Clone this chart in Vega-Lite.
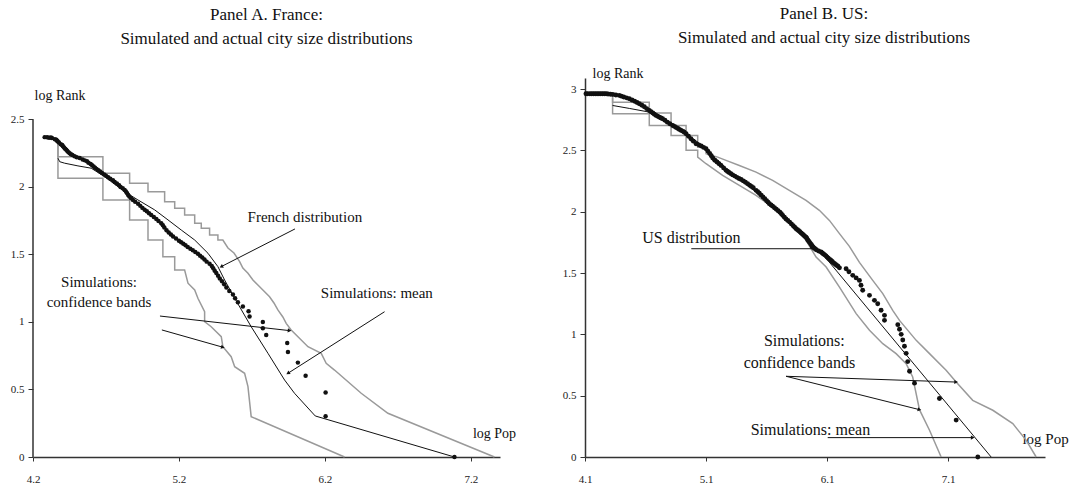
{
  "$schema": "https://vega.github.io/schema/vega-lite/v6.json",
  "background": "white",
  "padding": {"left": 10, "top": 5, "right": 0, "bottom": 0},
  "spacing": 46,
  "config": {
    "view": {"stroke": null},
    "font": "Liberation Serif",
    "axis": {
      "grid": false,
      "domainColor": "#333",
      "domainWidth": 1.5,
      "tickColor": "#333",
      "labelFont": "Liberation Serif",
      "labelFontSize": 11,
      "labelColor": "#222",
      "labelFlush": false,
      "titleFont": "Liberation Serif",
      "titleFontWeight": "normal",
      "titleFontSize": 14,
      "titleColor": "#111"
    }
  },
  "datasets": {
    "fr_axis": [{"x":4.2,"y":0,"y2":2.5}],
    "fr_dots": [
      {"x":7.088,"y":0},{"x":6.205,"y":0.301},{"x":6.205,"y":0.477},{"x":6.068,"y":0.602},{"x":6.015,"y":0.699},
      {"x":5.947,"y":0.778},{"x":5.942,"y":0.845},{"x":5.798,"y":0.903},{"x":5.775,"y":0.954},{"x":5.775,"y":1.0},
      {"x":5.684,"y":1.041},{"x":5.677,"y":1.079},{"x":5.638,"y":1.114},{"x":5.604,"y":1.146},{"x":5.585,"y":1.176},
      {"x":5.570,"y":1.204},{"x":5.545,"y":1.230},{"x":5.525,"y":1.255},{"x":5.51,"y":1.279},{"x":5.495,"y":1.301},
      {"x":5.48,"y":1.322},{"x":5.468,"y":1.342},{"x":5.456,"y":1.362},{"x":5.445,"y":1.380},{"x":5.435,"y":1.398},
      {"x":5.425,"y":1.415},{"x":5.41,"y":1.431},{"x":5.39,"y":1.447},{"x":5.375,"y":1.462},{"x":5.36,"y":1.477},
      {"x":5.345,"y":1.49},{"x":5.33,"y":1.505},{"x":5.312,"y":1.518},{"x":5.295,"y":1.531},{"x":5.278,"y":1.543},
      {"x":5.26,"y":1.556},{"x":5.245,"y":1.568},{"x":5.23,"y":1.580},{"x":5.215,"y":1.591},{"x":5.20,"y":1.602},
      {"x":5.18,"y":1.618},{"x":5.16,"y":1.633},{"x":5.145,"y":1.648},{"x":5.13,"y":1.663},{"x":5.115,"y":1.68},
      {"x":5.10,"y":1.699},{"x":5.09,"y":1.716},{"x":5.079,"y":1.732},{"x":5.06,"y":1.748},{"x":5.045,"y":1.763},
      {"x":5.028,"y":1.778},{"x":5.01,"y":1.792},{"x":4.995,"y":1.806},{"x":4.98,"y":1.820},{"x":4.965,"y":1.832},
      {"x":4.95,"y":1.845},{"x":4.935,"y":1.86},{"x":4.92,"y":1.875},{"x":4.90,"y":1.89},{"x":4.885,"y":1.903},
      {"x":4.872,"y":1.916},{"x":4.86,"y":1.929},{"x":4.852,"y":1.94},{"x":4.845,"y":1.954},{"x":4.837,"y":1.966},
      {"x":4.828,"y":1.978},{"x":4.815,"y":1.99},{"x":4.80,"y":2.0},{"x":4.79,"y":2.012},{"x":4.775,"y":2.025},
      {"x":4.76,"y":2.037},{"x":4.748,"y":2.049},{"x":4.73,"y":2.06},{"x":4.715,"y":2.072},{"x":4.70,"y":2.083},
      {"x":4.688,"y":2.093},{"x":4.673,"y":2.104},{"x":4.66,"y":2.114},{"x":4.648,"y":2.124},{"x":4.635,"y":2.134},
      {"x":4.625,"y":2.143},{"x":4.615,"y":2.152},{"x":4.605,"y":2.161},{"x":4.595,"y":2.170},{"x":4.58,"y":2.18},
      {"x":4.57,"y":2.190},{"x":4.555,"y":2.197},{"x":4.54,"y":2.204},{"x":4.52,"y":2.215},{"x":4.50,"y":2.220},
      {"x":4.485,"y":2.228},{"x":4.47,"y":2.236},{"x":4.46,"y":2.243},{"x":4.451,"y":2.250},{"x":4.443,"y":2.258},
      {"x":4.435,"y":2.267},{"x":4.428,"y":2.275},{"x":4.42,"y":2.283},{"x":4.413,"y":2.292},{"x":4.405,"y":2.301},
      {"x":4.40,"y":2.31},{"x":4.39,"y":2.316},{"x":4.378,"y":2.330},{"x":4.37,"y":2.337},{"x":4.365,"y":2.342},
      {"x":4.36,"y":2.35},{"x":4.35,"y":2.354},{"x":4.33,"y":2.362},{"x":4.322,"y":2.366},{"x":4.31,"y":2.365},
      {"x":4.297,"y":2.368},{"x":4.28,"y":2.369}
    ],
    "fr_mean": [
      {"x":4.371,"y":2.213},{"x":4.383,"y":2.187},{"x":4.417,"y":2.176},{"x":4.508,"y":2.156},{"x":4.599,"y":2.139},
      {"x":4.691,"y":2.076},{"x":4.828,"y":1.965},{"x":4.919,"y":1.904},{"x":5.034,"y":1.830},{"x":5.125,"y":1.756},
      {"x":5.216,"y":1.681},{"x":5.308,"y":1.607},{"x":5.399,"y":1.509},{"x":5.467,"y":1.410},{"x":5.513,"y":1.311},
      {"x":5.582,"y":1.176},{"x":5.695,"y":0.965},{"x":5.810,"y":0.768},{"x":5.924,"y":0.570},{"x":5.992,"y":0.472},
      {"x":6.134,"y":0.304},{"x":7.088,"y":0.0}
    ],
    "fr_up": [
      {"x":4.371,"y":2.324},{"x":4.371,"y":2.224},{"x":4.679,"y":2.224},{"x":4.679,"y":2.101},{"x":4.862,"y":2.101},
      {"x":4.862,"y":2.027},{"x":4.988,"y":2.027},{"x":4.988,"y":1.965},{"x":5.102,"y":1.965},{"x":5.102,"y":1.891},
      {"x":5.171,"y":1.891},{"x":5.171,"y":1.842},{"x":5.239,"y":1.842},{"x":5.239,"y":1.793},{"x":5.308,"y":1.793},
      {"x":5.308,"y":1.731},{"x":5.353,"y":1.731},{"x":5.353,"y":1.694},{"x":5.410,"y":1.694},{"x":5.410,"y":1.644},
      {"x":5.467,"y":1.644},{"x":5.467,"y":1.607},{"x":5.501,"y":1.607},{"x":5.536,"y":1.548},{"x":5.577,"y":1.511},
      {"x":5.616,"y":1.447},{"x":5.638,"y":1.40},{"x":5.673,"y":1.361},{"x":5.707,"y":1.311},{"x":5.741,"y":1.274},
      {"x":5.782,"y":1.230},{"x":5.821,"y":1.187},{"x":5.851,"y":1.141},{"x":5.878,"y":1.089},{"x":5.912,"y":1.037},
      {"x":5.935,"y":0.990},{"x":5.969,"y":0.941},{"x":6.084,"y":0.817},{"x":6.175,"y":0.768},{"x":6.209,"y":0.694},
      {"x":6.266,"y":0.644},{"x":6.449,"y":0.472},{"x":6.632,"y":0.324},{"x":7.362,"y":0.0}
    ],
    "fr_lo": [
      {"x":4.371,"y":2.324},{"x":4.371,"y":2.064},{"x":4.679,"y":2.064},{"x":4.679,"y":1.904},{"x":4.862,"y":1.904},
      {"x":4.862,"y":1.756},{"x":4.988,"y":1.756},{"x":4.988,"y":1.607},{"x":5.090,"y":1.607},{"x":5.090,"y":1.484},
      {"x":5.171,"y":1.484},{"x":5.171,"y":1.385},{"x":5.239,"y":1.385},{"x":5.262,"y":1.287},{"x":5.308,"y":1.237},
      {"x":5.330,"y":1.176},{"x":5.376,"y":1.076},{"x":5.376,"y":1.002},{"x":5.421,"y":0.965},{"x":5.490,"y":0.891},
      {"x":5.501,"y":0.817},{"x":5.558,"y":0.743},{"x":5.582,"y":0.669},{"x":5.650,"y":0.620},{"x":5.673,"y":0.521},
      {"x":5.695,"y":0.299},{"x":6.335,"y":0.0}
    ],
    "fr_arrows": [
      {"id":"french","x":5.995,"y":1.689,"x2":5.490,"y2":1.410},
      {"id":"mean","x":6.609,"y":1.076,"x2":5.947,"y2":0.620},
      {"id":"cb1","x":5.070,"y":1.044,"x2":5.958,"y2":0.936},
      {"id":"cb2","x":5.083,"y":0.941,"x2":5.501,"y2":0.813}
    ],
    "fr_text": [
      {"label":"French distribution","x":6.063,"y":1.778},
      {"label":"Simulations: mean","x":6.556,"y":1.215},
      {"label":"Simulations:","x":4.652,"y":1.296},
      {"label":"confidence bands","x":4.652,"y":1.148}
    ],
    "us_dots": [
      {"x":4.108,"y":2.962},{"x":4.12,"y":2.962},{"x":4.14,"y":2.962},{"x":4.155,"y":2.962},{"x":4.17,"y":2.962},
      {"x":4.185,"y":2.962},{"x":4.20,"y":2.962},{"x":4.215,"y":2.962},{"x":4.23,"y":2.962},{"x":4.245,"y":2.962},
      {"x":4.26,"y":2.962},{"x":4.275,"y":2.961},{"x":4.29,"y":2.960},{"x":4.31,"y":2.958},{"x":4.33,"y":2.955},
      {"x":4.355,"y":2.952},{"x":4.383,"y":2.948},{"x":4.40,"y":2.942},{"x":4.42,"y":2.935},{"x":4.443,"y":2.928},
      {"x":4.466,"y":2.921},{"x":4.488,"y":2.911},{"x":4.51,"y":2.90},{"x":4.53,"y":2.89},{"x":4.549,"y":2.880},
      {"x":4.57,"y":2.868},{"x":4.59,"y":2.855},{"x":4.61,"y":2.84},{"x":4.631,"y":2.825},{"x":4.645,"y":2.815},
      {"x":4.66,"y":2.805},{"x":4.673,"y":2.795},{"x":4.687,"y":2.785},{"x":4.70,"y":2.778},{"x":4.715,"y":2.77},
      {"x":4.728,"y":2.764},{"x":4.741,"y":2.758},{"x":4.76,"y":2.745},{"x":4.78,"y":2.73},{"x":4.80,"y":2.717},
      {"x":4.824,"y":2.703},{"x":4.84,"y":2.694},{"x":4.855,"y":2.685},{"x":4.868,"y":2.678},{"x":4.88,"y":2.67},
      {"x":4.895,"y":2.662},{"x":4.91,"y":2.655},{"x":4.92,"y":2.648},{"x":4.935,"y":2.636},{"x":4.955,"y":2.615},
      {"x":4.975,"y":2.595},{"x":4.995,"y":2.575},{"x":5.017,"y":2.554},{"x":5.04,"y":2.545},{"x":5.06,"y":2.535},
      {"x":5.08,"y":2.524},{"x":5.100,"y":2.513},{"x":5.115,"y":2.494},{"x":5.13,"y":2.475},{"x":5.143,"y":2.456},
      {"x":5.155,"y":2.438},{"x":5.172,"y":2.42},{"x":5.19,"y":2.405},{"x":5.207,"y":2.391},{"x":5.224,"y":2.377},
      {"x":5.245,"y":2.357},{"x":5.265,"y":2.337},{"x":5.278,"y":2.328},{"x":5.29,"y":2.32},{"x":5.305,"y":2.31},
      {"x":5.32,"y":2.30},{"x":5.338,"y":2.29},{"x":5.355,"y":2.28},{"x":5.372,"y":2.271},{"x":5.39,"y":2.262},
      {"x":5.408,"y":2.251},{"x":5.425,"y":2.24},{"x":5.443,"y":2.228},{"x":5.46,"y":2.215},{"x":5.475,"y":2.205},
      {"x":5.49,"y":2.195},{"x":5.513,"y":2.174},{"x":5.527,"y":2.162},{"x":5.54,"y":2.15},{"x":5.555,"y":2.135},
      {"x":5.57,"y":2.12},{"x":5.585,"y":2.105},{"x":5.6,"y":2.09},{"x":5.612,"y":2.078},{"x":5.623,"y":2.065},
      {"x":5.637,"y":2.055},{"x":5.65,"y":2.045},{"x":5.665,"y":2.032},{"x":5.68,"y":2.02},{"x":5.695,"y":2.008},
      {"x":5.71,"y":1.995},{"x":5.722,"y":1.983},{"x":5.733,"y":1.970},{"x":5.747,"y":1.955},{"x":5.76,"y":1.94},
      {"x":5.775,"y":1.928},{"x":5.79,"y":1.915},{"x":5.805,"y":1.9},{"x":5.82,"y":1.885},{"x":5.832,"y":1.873},
      {"x":5.844,"y":1.861},{"x":5.855,"y":1.853},{"x":5.865,"y":1.845},{"x":5.875,"y":1.836},{"x":5.885,"y":1.827},
      {"x":5.895,"y":1.818},{"x":5.905,"y":1.81},{"x":5.915,"y":1.8},{"x":5.926,"y":1.793},{"x":5.933,"y":1.782},
      {"x":5.94,"y":1.77},{"x":5.948,"y":1.76},{"x":5.955,"y":1.75},{"x":5.962,"y":1.74},{"x":5.97,"y":1.73},
      {"x":5.976,"y":1.72},{"x":5.981,"y":1.711},{"x":5.995,"y":1.7},{"x":6.01,"y":1.69},{"x":6.03,"y":1.68},
      {"x":6.050,"y":1.671},{"x":6.06,"y":1.663},{"x":6.07,"y":1.655},{"x":6.08,"y":1.648},{"x":6.09,"y":1.64},
      {"x":6.10,"y":1.63},{"x":6.11,"y":1.62},{"x":6.122,"y":1.611},{"x":6.133,"y":1.603},{"x":6.142,"y":1.594},
      {"x":6.15,"y":1.585},{"x":6.16,"y":1.578},{"x":6.17,"y":1.57},{"x":6.18,"y":1.562},{"x":6.19,"y":1.555},
      {"x":6.202,"y":1.542},{"x":6.257,"y":1.535},{"x":6.28,"y":1.51},{"x":6.312,"y":1.481},{"x":6.34,"y":1.46},
      {"x":6.367,"y":1.440},{"x":6.38,"y":1.40},{"x":6.394,"y":1.359},{"x":6.450,"y":1.318},{"x":6.491,"y":1.277},
      {"x":6.518,"y":1.250},{"x":6.546,"y":1.196},{"x":6.574,"y":1.155},{"x":6.574,"y":1.114},{"x":6.684,"y":1.079},
      {"x":6.698,"y":1.041},{"x":6.712,"y":1.0},{"x":6.725,"y":0.954},{"x":6.739,"y":0.903},{"x":6.753,"y":0.845},
      {"x":6.766,"y":0.778},{"x":6.781,"y":0.699},{"x":6.822,"y":0.602},{"x":7.028,"y":0.477},{"x":7.166,"y":0.301},
      {"x":7.345,"y":0}
    ],
    "us_mean": [
      {"x":4.328,"y":2.866},{"x":4.466,"y":2.842},{"x":4.631,"y":2.812},{"x":4.822,"y":2.720},{"x":5.045,"y":2.557},
      {"x":5.260,"y":2.361},{"x":5.507,"y":2.165},{"x":5.730,"y":1.978},{"x":5.921,"y":1.799},{"x":6.037,"y":1.685},
      {"x":7.455,"y":0}
    ],
    "us_up": [
      {"x":4.328,"y":2.934},{"x":4.328,"y":2.893},{"x":4.631,"y":2.893},{"x":4.631,"y":2.804},{"x":4.811,"y":2.804},
      {"x":4.811,"y":2.703},{"x":4.935,"y":2.703},{"x":4.935,"y":2.622},{"x":5.031,"y":2.622},{"x":5.031,"y":2.526},
      {"x":5.100,"y":2.526},{"x":5.100,"y":2.473},{"x":5.196,"y":2.445},{"x":5.265,"y":2.418},{"x":5.375,"y":2.377},
      {"x":5.513,"y":2.323},{"x":5.650,"y":2.255},{"x":5.788,"y":2.174},{"x":5.926,"y":2.092},{"x":6.036,"y":2.011},
      {"x":6.119,"y":1.929},{"x":6.202,"y":1.821},{"x":6.284,"y":1.717},{"x":6.367,"y":1.587},{"x":6.477,"y":1.440},
      {"x":6.560,"y":1.332},{"x":6.642,"y":1.196},{"x":6.698,"y":1.114},{"x":6.836,"y":0.951},{"x":6.946,"y":0.843},
      {"x":7.083,"y":0.707},{"x":7.166,"y":0.611},{"x":7.303,"y":0.462},{"x":7.469,"y":0.381},{"x":7.634,"y":0.272},
      {"x":7.745,"y":0.136},{"x":7.827,"y":0.0}
    ],
    "us_lo": [
      {"x":4.328,"y":2.934},{"x":4.328,"y":2.799},{"x":4.631,"y":2.799},{"x":4.631,"y":2.703},{"x":4.811,"y":2.703},
      {"x":4.811,"y":2.622},{"x":4.935,"y":2.622},{"x":4.935,"y":2.500},{"x":5.031,"y":2.500},{"x":5.031,"y":2.445},
      {"x":5.100,"y":2.391},{"x":5.237,"y":2.296},{"x":5.375,"y":2.214},{"x":5.513,"y":2.133},{"x":5.650,"y":2.037},
      {"x":5.788,"y":1.929},{"x":5.926,"y":1.766},{"x":6.009,"y":1.630},{"x":6.092,"y":1.549},{"x":6.202,"y":1.385},
      {"x":6.340,"y":1.169},{"x":6.450,"y":1.033},{"x":6.560,"y":0.924},{"x":6.670,"y":0.843},{"x":6.753,"y":0.761},
      {"x":6.807,"y":0.652},{"x":6.863,"y":0.386},{"x":6.946,"y":0.218},{"x":7.042,"y":0.0}
    ],
    "us_arrows": [
      {"id":"us","x":4.978,"y":1.698,"x2":5.995,"y2":1.698},
      {"id":"cb1","x":5.761,"y":0.658,"x2":7.166,"y2":0.611},
      {"id":"cb2","x":5.761,"y":0.658,"x2":6.863,"y2":0.386},
      {"id":"mean","x":6.105,"y":0.158,"x2":7.303,"y2":0.158}
    ],
    "us_text": [
      {"label":"US distribution","x":4.978,"y":1.782},
      {"label":"Simulations:","x":5.912,"y":0.943},
      {"label":"confidence bands","x":5.871,"y":0.764},
      {"label":"Simulations: mean","x":5.962,"y":0.218}
    ]
  },
  "hconcat": [
    {
      "width": 467,
      "height": 379,
      "title": {
        "text": ["Panel A. France:", "Simulated and actual city size distributions"],
        "font": "Liberation Serif", "fontSize": 17, "fontWeight": "normal", "color": "#111",
        "anchor": "middle", "frame": "group", "lineHeight": 24, "offset": 30
      },
      "encoding": {
        "x": {"field": "x", "type": "quantitative",
          "scale": {"domain": [4.2, 7.4], "nice": false, "zero": false},
          "axis": {"values": [4.2, 5.2, 6.2, 7.2], "labelExpr": "'' + datum.value", "tickSize": 4, "labelPadding": 12,
            "title": "log Pop", "titleX": 461, "titleY": -24, "titleAlign": "center", "titleBaseline": "middle"}},
        "y": {"field": "y", "type": "quantitative",
          "scale": {"domain": [0, 2.807], "nice": false, "zero": false},
          "axis": {"values": [0, 0.5, 1, 1.5, 2, 2.5], "labelExpr": "'' + datum.value", "tickSize": 5, "labelPadding": 4, "domain": false,
            "title": "log Rank", "titleAngle": 0, "titleX": 1, "titleY": 17, "titleAlign": "left", "titleBaseline": "middle"}}
      },
      "layer": [
        {"data": {"name": "fr_axis"}, "mark": {"type": "rule", "color": "#333", "strokeWidth": 1.5},
          "encoding": {"y2": {"field": "y2"}}},
        {"data": {"name": "fr_up"}, "mark": {"type": "line", "color": "#9a9a9a", "strokeWidth": 1.5}, "encoding": {"order": {"value": null}}},
        {"data": {"name": "fr_lo"}, "mark": {"type": "line", "color": "#9a9a9a", "strokeWidth": 1.5}, "encoding": {"order": {"value": null}}},
        {"data": {"name": "fr_mean"}, "mark": {"type": "line", "color": "#111", "strokeWidth": 1}, "encoding": {"order": {"value": null}}},
        {"data": {"name": "fr_dots"}, "mark": {"type": "circle", "color": "#111", "size": 20, "opacity": 1}},
        {"data": {"name": "fr_arrows"}, "mark": {"type": "rule", "color": "#111", "strokeWidth": 1},
          "encoding": {"x2": {"field": "x2"}, "y2": {"field": "y2"}}},
        {"data": {"name": "fr_arrows"}, "transform": [{"filter": "datum.id == 'french'"}],
          "mark": {"type": "point", "shape": "triangle-right", "filled": true, "color": "#111", "size": 18, "angle": 153, "opacity": 1},
          "encoding": {"x": {"field": "x2", "type": "quantitative"}, "y": {"field": "y2", "type": "quantitative"}}},
        {"data": {"name": "fr_arrows"}, "transform": [{"filter": "datum.id == 'mean'"}],
          "mark": {"type": "point", "shape": "triangle-right", "filled": true, "color": "#111", "size": 18, "angle": 147.5, "opacity": 1},
          "encoding": {"x": {"field": "x2", "type": "quantitative"}, "y": {"field": "y2", "type": "quantitative"}}},
        {"data": {"name": "fr_arrows"}, "transform": [{"filter": "datum.id == 'cb1'"}],
          "mark": {"type": "point", "shape": "triangle-right", "filled": true, "color": "#111", "size": 18, "angle": 6.5, "opacity": 1},
          "encoding": {"x": {"field": "x2", "type": "quantitative"}, "y": {"field": "y2", "type": "quantitative"}}},
        {"data": {"name": "fr_arrows"}, "transform": [{"filter": "datum.id == 'cb2'"}],
          "mark": {"type": "point", "shape": "triangle-right", "filled": true, "color": "#111", "size": 18, "angle": 15.5, "opacity": 1},
          "encoding": {"x": {"field": "x2", "type": "quantitative"}, "y": {"field": "y2", "type": "quantitative"}}},
        {"data": {"name": "fr_text"}, "mark": {"type": "text", "font": "Liberation Serif", "fontSize": 15, "color": "#111", "align": "center", "baseline": "middle"},
          "encoding": {"text": {"field": "label"}}}
      ]
    },
    {
      "width": 460,
      "height": 379,
      "title": {
        "text": ["Panel B. US:", "Simulated and actual city size distributions"],
        "font": "Liberation Serif", "fontSize": 17, "fontWeight": "normal", "color": "#111",
        "anchor": "middle", "frame": "group", "lineHeight": 24, "offset": 19, "dx": 9
      },
      "encoding": {
        "x": {"field": "x", "type": "quantitative",
          "scale": {"domain": [4.1, 7.9], "nice": false, "zero": false},
          "axis": {"values": [4.1, 5.1, 6.1, 7.1], "labelExpr": "'' + datum.value", "tickSize": 4, "labelPadding": 12,
            "title": "log Pop", "titleX": 460, "titleY": -19, "titleAlign": "center", "titleBaseline": "middle", "titleFontSize": 15}},
        "y": {"field": "y", "type": "quantitative",
          "scale": {"domain": [0, 3.09], "nice": false, "zero": false},
          "axis": {"values": [0, 0.5, 1, 1.5, 2, 2.5, 3], "labelExpr": "'' + datum.value", "tickSize": 5, "labelPadding": 4,
            "title": "log Rank", "titleAngle": 0, "titleX": 7, "titleY": -5, "titleAlign": "left", "titleBaseline": "middle"}}
      },
      "layer": [
        {"data": {"name": "us_up"}, "mark": {"type": "line", "color": "#9a9a9a", "strokeWidth": 1.5}, "encoding": {"order": {"value": null}}},
        {"data": {"name": "us_lo"}, "mark": {"type": "line", "color": "#9a9a9a", "strokeWidth": 1.5}, "encoding": {"order": {"value": null}}},
        {"data": {"name": "us_mean"}, "mark": {"type": "line", "color": "#111", "strokeWidth": 1}, "encoding": {"order": {"value": null}}},
        {"data": {"name": "us_dots"}, "mark": {"type": "circle", "color": "#111", "size": 24, "opacity": 1}},
        {"data": {"name": "us_arrows"}, "mark": {"type": "rule", "color": "#111", "strokeWidth": 1},
          "encoding": {"x2": {"field": "x2"}, "y2": {"field": "y2"}}},
        {"data": {"name": "us_arrows"}, "transform": [{"filter": "datum.id == 'cb1'"}],
          "mark": {"type": "point", "shape": "triangle-right", "filled": true, "color": "#111", "size": 18, "angle": 1.9, "opacity": 1},
          "encoding": {"x": {"field": "x2", "type": "quantitative"}, "y": {"field": "y2", "type": "quantitative"}}},
        {"data": {"name": "us_arrows"}, "transform": [{"filter": "datum.id == 'cb2'"}],
          "mark": {"type": "point", "shape": "triangle-right", "filled": true, "color": "#111", "size": 18, "angle": 14, "opacity": 1},
          "encoding": {"x": {"field": "x2", "type": "quantitative"}, "y": {"field": "y2", "type": "quantitative"}}},
        {"data": {"name": "us_arrows"}, "transform": [{"filter": "datum.id == 'mean'"}],
          "mark": {"type": "point", "shape": "triangle-right", "filled": true, "color": "#111", "size": 18, "angle": 0, "opacity": 1},
          "encoding": {"x": {"field": "x2", "type": "quantitative"}, "y": {"field": "y2", "type": "quantitative"}}},
        {"data": {"name": "us_text"}, "mark": {"type": "text", "font": "Liberation Serif", "fontSize": 16, "color": "#111", "align": "center", "baseline": "middle"},
          "encoding": {"text": {"field": "label"}}}
      ]
    }
  ]
}
